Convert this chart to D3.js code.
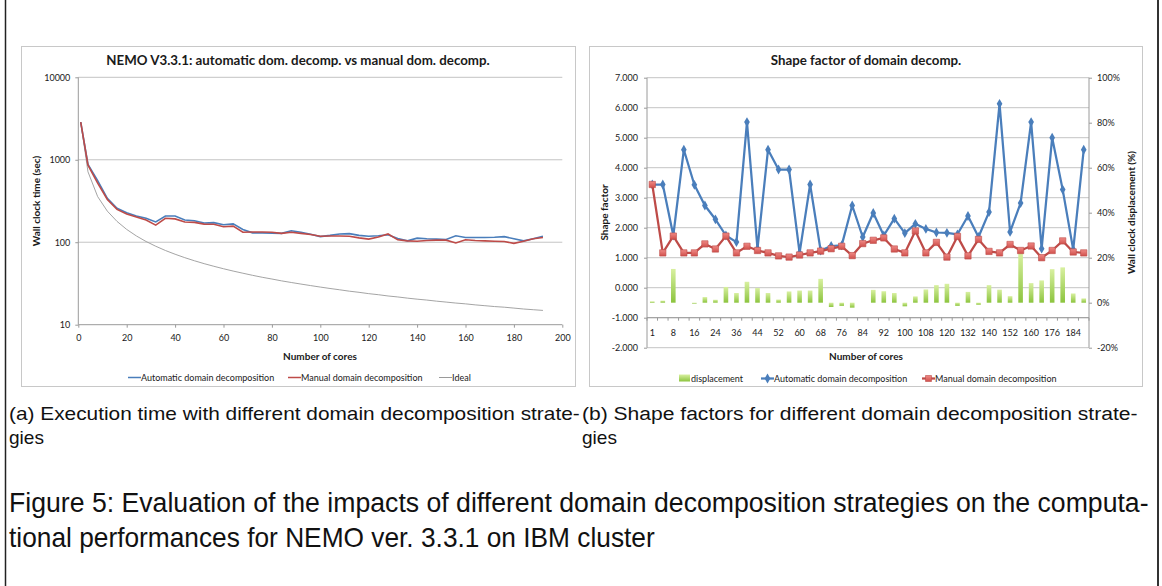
<!DOCTYPE html>
<html>
<head>
<meta charset="utf-8">
<script src="https://cdn.jsdelivr.net/npm/d3@7/dist/d3.min.js"></script>
<style>
  body { margin: 0; background: #fff; }
  svg { display: block; }
</style>
</head>
<body>
<svg id="fig" width="1162" height="586"></svg>
<script>
// ---- (a) execution time, log scale ----
const coresA = [1, 4, 8, 12, 16, 20, 24, 28, 32, 36, 40, 44, 48, 52, 56, 60, 64, 68, 72, 76, 80, 84, 88, 92, 96,
  100, 104, 108, 112, 116, 120, 124, 128, 132, 136, 140, 144, 148, 152, 156, 160, 164, 168, 172, 176, 180, 184, 188, 192];
const autoTime = [2860, 880, 560, 340, 258, 228, 208, 195, 176, 208, 208, 186, 182, 171, 173, 163, 167, 143, 130, 130,
  129, 128, 138, 132, 125, 117, 121, 126, 127, 121, 118, 120, 123, 111, 104, 112, 110, 109, 108, 120, 114, 114, 114,
  115, 117, 110, 104, 110, 118];
const manualTime = [2860, 860, 520, 330, 250, 220, 202, 186, 161, 195, 192, 176, 174, 166, 165, 154, 157, 132, 133, 133,
  132, 128, 132, 128, 124, 118, 119, 119, 118, 113, 109, 116, 126, 107, 104, 103, 105, 106, 106, 98, 107, 105, 104,
  103, 102, 97, 103, 110, 114];
const idealTime = [2860, 715, 357.5, 238.3, 178.8, 143, 119.2, 102.1, 89.4, 79.4, 71.5, 65, 59.6, 55, 51.1, 47.7, 44.7,
  42.1, 39.7, 37.6, 35.8, 34, 32.5, 31.1, 29.8, 28.6, 27.5, 26.5, 25.5, 24.7, 23.8, 23.1, 22.3, 21.7, 21, 20.4, 19.9,
  19.3, 18.8, 18.3, 17.9, 17.4, 17, 16.6, 16.3, 15.9, 15.5, 15.2, 14.9];
const timeTicks = [10, 100, 1000, 10000];
const coreTicksA = [0, 20, 40, 60, 80, 100, 120, 140, 160, 180, 200];

// ---- (b) shape factor ----
const coresB = ['1', '4', '8', '12', '16', '20', '24', '32', '36', '40', '44', '48', '52', '56', '60', '64', '68', '72',
  '76', '80', '84', '88', '92', '96', '100', '104', '108', '112', '120', '128', '132', '136', '140', '144', '152', '156',
  '160', '168', '176', '180', '184', '192'];
const autoShape = [3.44, 3.44, 1.74, 4.6, 3.43, 2.74, 2.28, 1.74, 1.52, 5.52, 1.3, 4.6, 3.94, 3.94, 1.16, 3.44, 1.24,
  1.39, 1.41, 2.74, 1.69, 2.49, 1.74, 2.3, 1.82, 2.13, 1.96, 1.84, 1.83, 1.78, 2.39, 1.69, 2.52, 6.13, 1.86, 2.82,
  5.52, 1.3, 5.0, 3.27, 1.27, 4.6];
const manualShape = [3.44, 1.16, 1.72, 1.16, 1.16, 1.46, 1.29, 1.72, 1.16, 1.38, 1.24, 1.16, 1.06, 1.02, 1.09, 1.16,
  1.22, 1.3, 1.38, 1.07, 1.47, 1.58, 1.66, 1.29, 1.16, 1.89, 1.16, 1.51, 1.02, 1.71, 1.06, 1.61, 1.21, 1.16, 1.44,
  1.24, 1.39, 1.0, 1.24, 1.56, 1.19, 1.16];
const displacement = [0.6, 0.9, 15, 0, -0.4, 2.5, 1.3, 7, 4.3, 9.3, 6.5, 4.3, 1.4, 5, 5.4, 5.4, 10.6, -1.9, -1.4,
  -2.2, 0, 5.7, 5.1, 4.3, -1.6, 2.8, 5.9, 7.8, 8.4, -1.4, 4.8, -0.9, 7.8, 5.8, 2.9, 22, 8.7, 9.9, 14.9, 15.7, 4.1, 1.9];
const coreLabelsB = ['1', '8', '16', '24', '36', '44', '52', '60', '68', '76', '84', '92', '100', '108', '120', '132',
  '140', '152', '160', '176', '184'];
const shapeTicks = [-2, -1, 0, 1, 2, 3, 4, 5, 6, 7];
const dispTicks = [-20, 0, 20, 40, 60, 80, 100];

const BLUE = '#4a7ebb', RED = '#be4b48', GRID = '#c4c4c4', AXIS = '#9a9a9a', INK = '#1a1a1a';
const FONT = "Lato, 'Open Sans', sans-serif";

const svg = d3.select('#fig');
svg.append('rect').attr('width', 1162).attr('height', 586).attr('fill', '#fff');

// page frame sides
svg.append('line').attr('x1', 5.5).attr('x2', 5.5).attr('y1', 0).attr('y2', 586)
  .attr('stroke', '#222').attr('stroke-width', 1.5);
svg.append('line').attr('x1', 1158).attr('x2', 1158).attr('y1', 0).attr('y2', 586)
  .attr('stroke', '#333').attr('stroke-width', 2);

const defs = svg.append('defs');
const g1 = defs.append('linearGradient').attr('id', 'barGrad').attr('x1', 0).attr('x2', 0).attr('y1', 0).attr('y2', 1);
g1.append('stop').attr('offset', '0%').attr('stop-color', '#d8f0a0');
g1.append('stop').attr('offset', '100%').attr('stop-color', '#8cc43e');
const g2 = defs.append('linearGradient').attr('id', 'sqGrad').attr('x1', 0).attr('x2', 0).attr('y1', 0).attr('y2', 1);
g2.append('stop').attr('offset', '0%').attr('stop-color', '#f08a86');
g2.append('stop').attr('offset', '100%').attr('stop-color', '#d0504c');

function styleAxis(g, size) {
  g.select('.domain').remove();
  g.selectAll('.tick line').attr('stroke', AXIS);
  g.selectAll('.tick text').attr('font-family', FONT).attr('font-size', size).attr('fill', INK);
}

function boldText(g, x, y, size, txt, rot) {
  const t = g.append('text').attr('text-anchor', 'middle')
    .attr('font-family', FONT).attr('font-weight', 'bold').attr('font-size', size).attr('fill', INK).text(txt);
  if (rot) t.attr('transform', `translate(${x},${y}) rotate(${rot})`);
  else t.attr('x', x).attr('y', y);
}

function legendItem(g, x, y, kind, label) {
  if (kind === 'bar') {
    g.append('rect').attr('x', x).attr('y', y - 4).attr('width', 11).attr('height', 7).attr('fill', 'url(#barGrad)');
  } else {
    const col = kind === 'ideal' ? '#9a9a9a' : (kind === 'auto' || kind === 'autoM' ? BLUE : RED);
    g.append('line').attr('x1', x).attr('x2', x + 13).attr('y1', y).attr('y2', y)
      .attr('stroke', col).attr('stroke-width', kind === 'ideal' ? 1 : (kind.endsWith('M') ? 2.25 : 1.5));
    if (kind === 'autoM') {
      g.append('path').attr('d', d3.symbol(d3.symbolDiamond, 28)()).attr('transform', `translate(${x + 6.5},${y})`)
        .attr('fill', BLUE);
    }
    if (kind === 'manualM') {
      g.append('path').attr('d', d3.symbol(d3.symbolSquare, 36)()).attr('transform', `translate(${x + 6.5},${y})`)
        .attr('fill', 'url(#sqGrad)').attr('stroke', RED).attr('stroke-width', 0.6);
    }
  }
  g.append('text').attr('x', x + (kind === 'bar' ? 12 : 13)).attr('y', y + 3).text(label)
    .attr('font-family', FONT).attr('font-size', 9).attr('fill', INK);
}

// ================= chart (a) =================
(function drawTime() {
  const g = svg.append('g');
  g.append('rect').attr('x', 21.5).attr('y', 46.5).attr('width', 554).attr('height', 340)
    .attr('fill', '#fff').attr('stroke', '#c8c8c8');

  const x = d3.scaleLinear().domain([0, 200]).range([78.3, 562.3]);
  const y = d3.scaleLog().domain([10, 10000]).range([324.7, 77.3]);

  g.selectAll('.grid').data(timeTicks.slice(1)).enter().append('line')
    .attr('x1', x(0)).attr('x2', x(200)).attr('y1', d => y(d)).attr('y2', d => y(d))
    .attr('stroke', GRID).attr('stroke-width', 1);

  g.append('g').attr('transform', `translate(${x(0)},0)`)
    .call(d3.axisLeft(y).tickValues(timeTicks).tickFormat(d3.format('d')).tickSize(3).tickPadding(5))
    .call(a => styleAxis(a, 9));
  g.append('g').attr('transform', `translate(0,${y(10)})`)
    .call(d3.axisBottom(x).tickValues(coreTicksA).tickSize(3).tickPadding(7))
    .call(a => styleAxis(a, 9));
  g.append('line').attr('x1', x(0)).attr('x2', x(0)).attr('y1', y(10000)).attr('y2', y(10)).attr('stroke', AXIS);
  g.append('line').attr('x1', x(0)).attr('x2', x(200)).attr('y1', y(10)).attr('y2', y(10)).attr('stroke', AXIS);

  const line = vals => d3.line().x((d, i) => x(coresA[i])).y(d => y(d))(vals);
  g.append('path').attr('d', line(idealTime)).attr('fill', 'none').attr('stroke', '#9a9a9a').attr('stroke-width', 0.9);
  g.append('path').attr('d', line(autoTime)).attr('fill', 'none').attr('stroke', BLUE).attr('stroke-width', 1.6);
  g.append('path').attr('d', line(manualTime)).attr('fill', 'none').attr('stroke', RED).attr('stroke-width', 1.6);

  boldText(g, 298, 65, 13.3, 'NEMO V3.3.1: automatic dom. decomp. vs manual dom. decomp.');
  boldText(g, 320, 359.5, 10, 'Number of cores');
  boldText(g, 39.5, 201, 10, 'Wall clock time (sec)', -90);

  legendItem(g, 128, 377.5, 'auto', 'Automatic domain decomposition');
  legendItem(g, 288, 377.5, 'manual', 'Manual domain decomposition');
  legendItem(g, 439, 377.5, 'ideal', 'Ideal');
})();

// ================= chart (b) =================
(function drawShape() {
  const g = svg.append('g');
  g.append('rect').attr('x', 589.5).attr('y', 46.5).attr('width', 553).attr('height', 340)
    .attr('fill', '#fff').attr('stroke', '#c8c8c8');

  const x = d3.scaleBand().domain(coresB).range([647, 1089]);
  const cx = c => x(c) + x.bandwidth() / 2;
  const y = d3.scaleLinear().domain([-2, 7]).range([347.7, 77.7]);
  const y2 = d3.scaleLinear().domain([-20, 100]).range([347.7, 77.7]);

  g.selectAll('.grid').data(shapeTicks).enter().append('line')
    .attr('x1', 647).attr('x2', 1089).attr('y1', d => y(d)).attr('y2', d => y(d))
    .attr('stroke', GRID).attr('stroke-width', 1);

  g.append('g').attr('transform', 'translate(647,0)')
    .call(d3.axisLeft(y).tickValues(shapeTicks).tickFormat(d => d.toFixed(3)).tickSize(3).tickPadding(6))
    .call(a => styleAxis(a, 9));
  g.append('g').attr('transform', 'translate(1089,0)')
    .call(d3.axisRight(y2).tickValues(dispTicks).tickFormat(d => d + '%').tickSize(3).tickPadding(5))
    .call(a => styleAxis(a, 9));
  g.append('line').attr('x1', 647).attr('x2', 647).attr('y1', y(7)).attr('y2', y(-2)).attr('stroke', AXIS);
  g.append('line').attr('x1', 1089).attr('x2', 1089).attr('y1', y(7)).attr('y2', y(-2)).attr('stroke', AXIS);

  // category axis sits on the -1.000 line
  const xa = g.append('g').attr('transform', `translate(0,${y(-1)})`);
  xa.call(d3.axisBottom(x).tickValues(coreLabelsB).tickSize(0).tickPadding(12)).call(a => styleAxis(a, 9));
  xa.append('line').attr('x1', 647).attr('x2', 1089).attr('stroke', AXIS);
  xa.selectAll('.bt').data(coresB.concat(['end'])).enter().append('line')
    .attr('x1', d => d === 'end' ? 1089 : x(d)).attr('x2', d => d === 'end' ? 1089 : x(d))
    .attr('y1', 0).attr('y2', 3).attr('stroke', AXIS);

  g.selectAll('.bar').data(displacement).enter().append('rect')
    .attr('x', (d, i) => cx(coresB[i]) - 2.3)
    .attr('y', d => d >= 0 ? y2(d) : y2(0))
    .attr('width', 4.6)
    .attr('height', d => Math.abs(y2(d) - y2(0)))
    .attr('fill', 'url(#barGrad)');

  const line = vals => d3.line().x((d, i) => cx(coresB[i])).y(d => y(d))(vals);
  g.append('path').attr('d', line(autoShape)).attr('fill', 'none').attr('stroke', BLUE).attr('stroke-width', 2.25)
    .attr('stroke-linejoin', 'round');
  g.selectAll('.dia').data(autoShape).enter().append('path')
    .attr('d', d3.symbol(d3.symbolDiamond, 28)())
    .attr('transform', (d, i) => `translate(${cx(coresB[i])},${y(d)})`)
    .attr('fill', BLUE);
  g.append('path').attr('d', line(manualShape)).attr('fill', 'none').attr('stroke', RED).attr('stroke-width', 2.25)
    .attr('stroke-linejoin', 'round');
  g.selectAll('.sq').data(manualShape).enter().append('path')
    .attr('d', d3.symbol(d3.symbolSquare, 40)())
    .attr('transform', (d, i) => `translate(${cx(coresB[i])},${y(d)})`)
    .attr('fill', 'url(#sqGrad)').attr('stroke', RED).attr('stroke-width', 0.6);

  boldText(g, 866, 65, 13.3, 'Shape factor of domain decomp.');
  boldText(g, 866, 359.5, 10, 'Number of cores');
  boldText(g, 607.5, 212.5, 10, 'Shape factor', -90);
  boldText(g, 1134.5, 212.5, 10, 'Wall clock displacement (%)', -90);

  legendItem(g, 679, 378.5, 'bar', 'displacement');
  legendItem(g, 761, 378.5, 'autoM', 'Automatic domain decomposition');
  legendItem(g, 922, 378.5, 'manualM', 'Manual domain decomposition');
})();

// ================= captions =================
// narrow Helvetica look: draw at natural size, then squeeze horizontally to the width seen
const CAP = "'Liberation Sans', Arial, sans-serif";
function caption(x, y, size, txt, len) {
  const t = svg.append('text').attr('x', 0).attr('y', 0).attr('font-family', CAP).attr('font-size', size)
    .attr('fill', '#111').text(txt);
  const w = t.node().getComputedTextLength();
  t.attr('transform', `translate(${x},${y}) scale(${len / w},1)`);
}
caption(9, 420, 18, '(a) Execution time with different domain decomposition strate-', 571);
caption(9, 444, 18, 'gies', 35);
caption(582, 420, 18, '(b) Shape factors for different domain decomposition strate-', 556);
caption(582, 444, 18, 'gies', 35);
caption(9, 512, 27, 'Figure 5: Evaluation of the impacts of different domain decomposition strategies on the computa-', 1140);
caption(9, 547, 27, 'tional performances for NEMO ver. 3.3.1 on IBM cluster', 646);
</script>
</body>
</html>
